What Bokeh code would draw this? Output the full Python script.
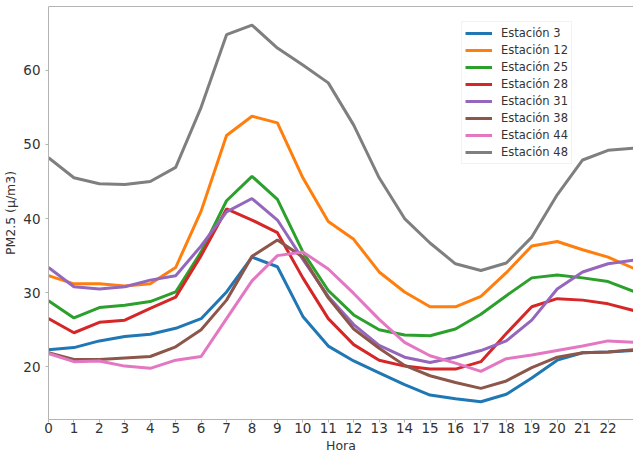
from bokeh.plotting import figure
from bokeh.models import Range1d, FixedTicker, Legend, LegendItem, LinearAxis, Title
from bokeh.embed import file_html
from bokeh.resources import INLINE

hours = list(range(24))
x_ticks = list(range(23))
y_ticks = [20, 30, 40, 50, 60]

est_3 = [22.3, 22.6, 23.5, 24.1, 24.4, 25.2, 26.5, 30.1, 34.8, 33.5, 26.8, 22.8,
         20.8, 19.2, 17.6, 16.2, 15.7, 15.3, 16.3, 18.5, 20.9, 21.9, 22.0, 22.2]
est_12 = [32.3, 31.2, 31.2, 30.9, 31.2, 33.4, 41.0, 51.2, 53.8, 52.9, 45.5, 39.6,
          37.2, 32.8, 30.1, 28.1, 28.1, 29.5, 32.7, 36.3, 36.9, 35.8, 34.8, 33.3]
est_25 = [28.9, 26.6, 28.0, 28.3, 28.8, 30.1, 35.5, 42.4, 45.7, 42.6, 35.5, 30.3,
          27.0, 25.0, 24.3, 24.2, 25.1, 27.1, 29.6, 32.0, 32.4, 32.0, 31.5, 30.2]
est_28 = [26.5, 24.6, 26.0, 26.3, 27.9, 29.4, 35.0, 41.3, 39.8, 38.1, 32.0, 26.5,
          23.0, 20.9, 20.1, 19.7, 19.7, 20.7, 24.5, 28.1, 29.2, 29.0, 28.5, 27.6]
est_31 = [33.4, 30.8, 30.5, 30.8, 31.7, 32.3, 36.3, 40.9, 42.7, 39.8, 34.5, 29.5,
          25.7, 22.9, 21.3, 20.6, 21.3, 22.2, 23.5, 26.3, 30.5, 32.8, 33.9, 34.4]
est_38 = [21.9, 21.0, 21.0, 21.2, 21.4, 22.7, 25.0, 29.0, 34.9, 37.1, 34.8, 29.3,
          25.1, 22.5, 20.2, 18.8, 17.9, 17.1, 18.1, 19.9, 21.3, 21.9, 22.0, 22.3]
est_44 = [21.8, 20.7, 20.8, 20.1, 19.8, 20.9, 21.4, 26.5, 31.6, 35.0, 35.5, 33.2,
          29.9, 26.4, 23.3, 21.5, 20.5, 19.4, 21.1, 21.6, 22.2, 22.8, 23.5, 23.3]
est_48 = [48.2, 45.5, 44.7, 44.6, 45.0, 46.9, 55.0, 64.8, 66.1, 63.0, 60.7, 58.3,
          52.6, 45.5, 40.0, 36.7, 33.9, 33.0, 34.0, 37.5, 43.2, 47.9, 49.2, 49.5]

names = ["Estación 3", "Estación 12", "Estación 25", "Estación 28",
         "Estación 31", "Estación 38", "Estación 44", "Estación 48"]
series = [est_3, est_12, est_25, est_28, est_31, est_38, est_44, est_48]
colors = ["#1f77b4", "#ff7f0e", "#2ca02c", "#d62728",
          "#9467bd", "#8c564b", "#e377c2", "#7f7f7f"]

FONT = "DejaVu Sans"
SPINE = "#b4b4b4"

p = figure(width=633, height=452, output_backend="svg", toolbar_location=None,
           x_range=Range1d(0, 23), y_range=Range1d(12.9, 68.6),
           min_border_left=48, min_border_right=0, min_border_top=6,
           min_border_bottom=31)
p.outline_line_color = None
p.xgrid.visible = False
p.ygrid.visible = False
p.background_fill_color = "white"
p.border_fill_color = "white"

items = []
for name, ys, c in zip(names, series, colors):
    r = p.line(hours, ys, line_color=c, line_width=3)
    items.append(LegendItem(label=name, renderers=[r]))

for ax in (p.xaxis[0], p.yaxis[0]):
    ax.axis_line_color = SPINE
    ax.major_tick_line_color = SPINE
    ax.major_tick_out = 3
    ax.major_tick_in = 0
    ax.minor_tick_line_color = None
    ax.major_label_text_font = FONT
    ax.major_label_text_font_size = "13.5px"
    ax.major_label_text_color = "#333333"
    ax.axis_label_text_font = FONT
    ax.axis_label_text_font_size = "12.5px"
    ax.axis_label_text_font_style = "normal"
    ax.axis_label_text_color = "#333333"

p.xaxis[0].ticker = FixedTicker(ticks=x_ticks)
p.yaxis[0].ticker = FixedTicker(ticks=y_ticks)
p.xaxis[0].major_label_standoff = 0
p.yaxis[0].major_label_standoff = 5
p.yaxis[0].axis_label = "PM2.5 (µ/m3)"
p.yaxis[0].axis_label_standoff = 2

top_axis = LinearAxis(ticker=FixedTicker(ticks=[]), axis_line_color=SPINE,
                      major_tick_out=0, major_tick_in=0, minor_tick_out=0,
                      major_label_text_font_size="0px")
p.add_layout(top_axis, "above")

xlab = Title(text="Hora", align="center", text_font=FONT,
             text_font_size="12.5px", text_font_style="normal",
             text_color="#333333", standoff=0)
p.add_layout(xlab, "below")

legend = Legend(items=items, location=(413, 255), padding=3, spacing=1,
                margin=0, label_height=16, glyph_height=16, glyph_width=27,
                label_standoff=9, label_text_font=FONT,
                label_text_font_size="11.5px", label_text_color="#333333",
                border_line_color="#e6e6e6", background_fill_alpha=0.9)
p.add_layout(legend)

open("out.html", "w").write(file_html(p, INLINE))
